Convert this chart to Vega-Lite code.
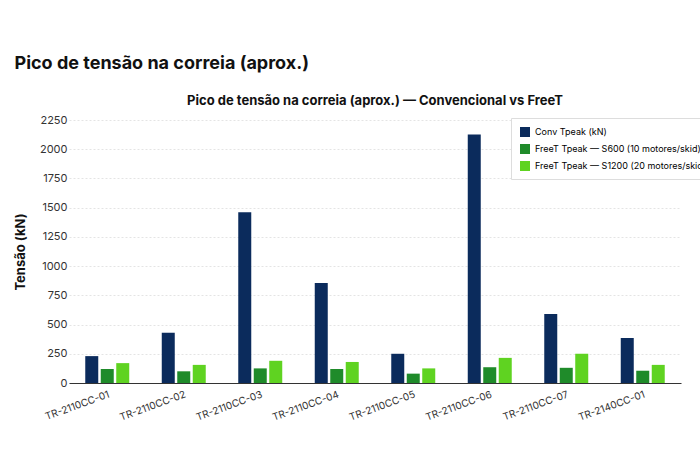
{
  "$schema": "https://vega.github.io/schema/vega-lite/v6.json",
  "config": {"background": "white", "font": "Inter", "view": {"stroke": null}},
  "padding": {"left": 14, "top": 55, "right": 16, "bottom": 10},
  "title": {"text": "Pico de tensão na correia (aprox.)", "anchor": "start", "fontSize": 18, "fontWeight": "bold", "color": "#111", "offset": 22},
  "data": {"values": [
    {"tr": "TR-2110CC-01", "s": "Conv Tpeak (kN)", "v": 230},
    {"tr": "TR-2110CC-01", "s": "FreeT Tpeak — S600 (10 motores/skid)", "v": 120},
    {"tr": "TR-2110CC-01", "s": "FreeT Tpeak — S1200 (20 motores/skid)", "v": 170},
    {"tr": "TR-2110CC-02", "s": "Conv Tpeak (kN)", "v": 430},
    {"tr": "TR-2110CC-02", "s": "FreeT Tpeak — S600 (10 motores/skid)", "v": 100},
    {"tr": "TR-2110CC-02", "s": "FreeT Tpeak — S1200 (20 motores/skid)", "v": 155},
    {"tr": "TR-2110CC-03", "s": "Conv Tpeak (kN)", "v": 1460},
    {"tr": "TR-2110CC-03", "s": "FreeT Tpeak — S600 (10 motores/skid)", "v": 125},
    {"tr": "TR-2110CC-03", "s": "FreeT Tpeak — S1200 (20 motores/skid)", "v": 190},
    {"tr": "TR-2110CC-04", "s": "Conv Tpeak (kN)", "v": 855},
    {"tr": "TR-2110CC-04", "s": "FreeT Tpeak — S600 (10 motores/skid)", "v": 120},
    {"tr": "TR-2110CC-04", "s": "FreeT Tpeak — S1200 (20 motores/skid)", "v": 180},
    {"tr": "TR-2110CC-05", "s": "Conv Tpeak (kN)", "v": 250},
    {"tr": "TR-2110CC-05", "s": "FreeT Tpeak — S600 (10 motores/skid)", "v": 80},
    {"tr": "TR-2110CC-05", "s": "FreeT Tpeak — S1200 (20 motores/skid)", "v": 125},
    {"tr": "TR-2110CC-06", "s": "Conv Tpeak (kN)", "v": 2125},
    {"tr": "TR-2110CC-06", "s": "FreeT Tpeak — S600 (10 motores/skid)", "v": 135},
    {"tr": "TR-2110CC-06", "s": "FreeT Tpeak — S1200 (20 motores/skid)", "v": 215},
    {"tr": "TR-2110CC-07", "s": "Conv Tpeak (kN)", "v": 590},
    {"tr": "TR-2110CC-07", "s": "FreeT Tpeak — S600 (10 motores/skid)", "v": 130},
    {"tr": "TR-2110CC-07", "s": "FreeT Tpeak — S1200 (20 motores/skid)", "v": 250},
    {"tr": "TR-2140CC-01", "s": "Conv Tpeak (kN)", "v": 385},
    {"tr": "TR-2140CC-01", "s": "FreeT Tpeak — S600 (10 motores/skid)", "v": 105},
    {"tr": "TR-2140CC-01", "s": "FreeT Tpeak — S1200 (20 motores/skid)", "v": 155}
  ]},
  "vconcat": [
    {
      "title": {"text": "Pico de tensão na correia (aprox.) — Convencional vs FreeT", "fontSize": 13, "fontWeight": "bold", "color": "#111", "offset": 6},
      "width": 612,
      "height": 263,
      "mark": {"type": "bar", "width": 13},
      "encoding": {
        "x": {"field": "tr", "type": "nominal", "title": null, "scale": {"paddingInner": 0.2, "paddingOuter": 0.1},
          "axis": {"labelAngle": -20, "labelFontSize": 10, "labelColor": "#333", "ticks": false, "domainColor": "#333", "labelPadding": 6}},
        "xOffset": {"field": "s", "type": "nominal", "sort": null, "scale": {"paddingInner": 0.25, "paddingOuter": 0.6}},
        "y": {"field": "v", "type": "quantitative", "title": "Tensão (kN)", "scale": {"domain": [0, 2250]},
          "axis": {"values": [0, 250, 500, 750, 1000, 1250, 1500, 1750, 2000, 2250], "format": "d", "titleFontSize": 13, "titleFontWeight": "bold", "titleColor": "#111", "labelFontSize": 11, "labelColor": "#333", "gridDash": [2, 2], "gridColor": "#e4e4e4", "domain": false, "ticks": false, "titlePadding": 12}},
        "color": {"field": "s", "type": "nominal", "sort": null, "title": null,
          "scale": {"domain": ["Conv Tpeak (kN)", "FreeT Tpeak — S600 (10 motores/skid)", "FreeT Tpeak — S1200 (20 motores/skid)"], "range": ["#0b2b5c", "#1f8b2a", "#5fd321"]},
          "legend": {"orient": "none", "legendX": 442, "legendY": -2, "symbolType": "square", "labelFontSize": 9, "labelLimit": 300, "fillColor": "white", "strokeColor": "#ddd", "padding": 8, "symbolSize": 100, "rowPadding": 6}}
      }
    }
  ]
}
